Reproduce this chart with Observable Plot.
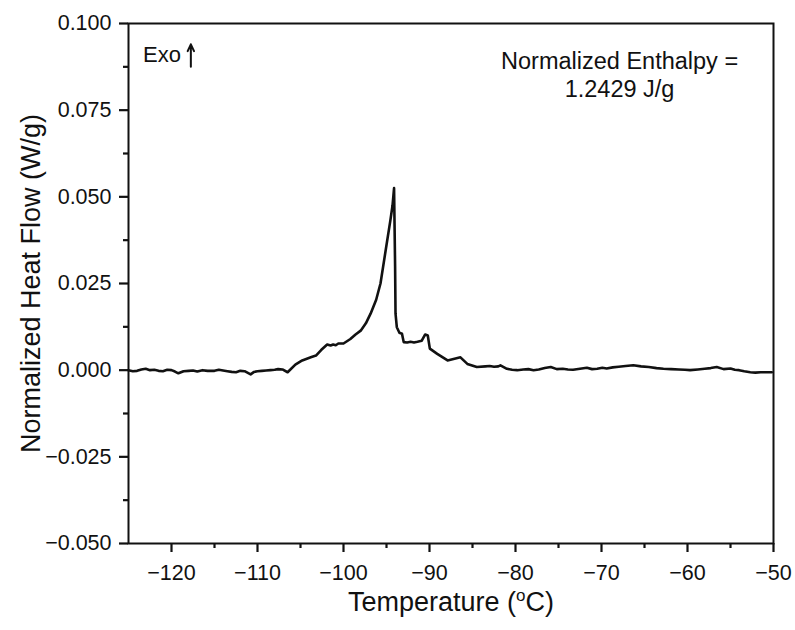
<!DOCTYPE html>
<html>
<head>
<meta charset="utf-8">
<script src="https://cdn.jsdelivr.net/npm/d3@7"></script>
<script src="https://cdn.jsdelivr.net/npm/@observablehq/plot@0.6"></script>
<style>
  body { margin: 0; background: #fff; }
  #chart svg { display: block; }
</style>
</head>
<body>
<div id="chart"></div>
<script>
const temperature = [
  -125.0, -124.5, -124.0, -123.5, -123.0, -122.5, -122.0, -121.5, -121.0, -120.5,
  -120.0, -119.6, -119.2, -118.6, -118.0, -117.5, -117.0, -116.4, -115.8, -115.0,
  -114.5, -114.0, -113.5, -113.0, -112.5, -112.0, -111.5, -110.8, -110.4, -110.0,
  -109.5, -109.0, -108.5, -108.0, -107.6, -107.1, -106.5,
  -105.6, -104.8, -103.8, -103.2, -102.6, -101.9, -101.5, -101.2, -100.9, -100.6, -100.0,
  -99.2, -98.6, -98.0, -97.4, -96.85, -96.2, -95.7, -95.1, -94.55, -94.3,
  -94.12, -94.0, -93.95, -93.8, -93.5, -93.2, -93.0, -92.6, -92.2, -91.8, -91.4, -90.9,
  -90.5, -90.2, -89.96, -89.1, -87.9, -86.4, -85.6, -84.5, -83.5, -83.0, -82.5, -82.0,
  -81.75, -81.0, -80.4, -79.8, -79.1, -78.5, -77.9, -77.3, -76.6, -75.9, -75.2, -74.5, -73.9, -73.3, -72.5, -71.7, -71.1, -70.5,
  -69.9, -69.4, -68.7, -68.0, -67.2, -66.3, -65.4, -64.5, -63.6, -62.8, -61.9, -61.0, -60.3, -59.7, -58.8, -58.0, -57.3, -56.6, -55.8,
  -55.0, -54.5, -54.0, -53.4, -52.7, -52.1, -51.5, -50.8, -50.2
];
const heatFlow = [
  0.0000, -0.0003, -0.0002, 0.0002, 0.0004, 0.0000, 0.0001, -0.0002, -0.0003, 0.0001,
  0.0000, -0.0004, -0.0009, -0.0003, -0.0002, -0.0001, -0.0004, 0.0000, -0.0002, -0.0002,
  0.0001, -0.0001, -0.0003, -0.0005, -0.0006, -0.0002, -0.0003, -0.0012, -0.0005, -0.0003,
  -0.0002, -0.0001, 0.0000, 0.0001, 0.0003, 0.0002, -0.0006,
  0.0016, 0.0028, 0.0037, 0.0042, 0.0058, 0.0074, 0.0071, 0.0074, 0.0072, 0.0077, 0.0077,
  0.0090, 0.0103, 0.0114, 0.0135, 0.0163, 0.0203, 0.0250, 0.0345, 0.0432, 0.0475,
  0.0525, 0.0300, 0.0163, 0.0124, 0.0108, 0.0105, 0.0081, 0.0080, 0.0082, 0.0080, 0.0082, 0.0085,
  0.0103, 0.0100, 0.0062, 0.0047, 0.0028, 0.0037, 0.0018, 0.0009, 0.0011, 0.0012, 0.0010, 0.0011,
  0.0014, 0.0004, 0.0001, 0.0000, 0.0002, 0.0003, 0.0000, 0.0002, 0.0006, 0.0009, 0.0003, 0.0004, 0.0002, 0.0001, 0.0004, 0.0007, 0.0003, 0.0004,
  0.0007, 0.0005, 0.0008, 0.0010, 0.0012, 0.0014, 0.0011, 0.0009, 0.0006, 0.0004, 0.0003, 0.0002, 0.0001, 0.0000, 0.0002, 0.0004, 0.0006, 0.0009, 0.0003,
  0.0005, 0.0001, 0.0000, -0.0003, -0.0006, -0.0007, -0.0006, -0.0006, -0.0006
];
const xMajorTicks = [-120, -110, -100, -90, -80, -70, -60, -50];
const xMinorTicks = [-115, -105, -95, -85, -75, -65, -55];
const yMajorTicks = [-0.05, -0.025, 0, 0.025, 0.05, 0.075, 0.1];
const yMinorTicks = [-0.0375, -0.0125, 0.0125, 0.0375, 0.0625, 0.0875];
const exoLabel = [{x: -123.3, y: 0.0908, text: "Exo"}];
const exoArrow = [{x: -117.75, y1: 0.0875, y2: 0.0940}];
const enthalpyLabel = [{x: -67.9, y: 0.0855, text: "Normalized Enthalpy =\n1.2429 J/g"}];

const data = temperature.map((t, i) => ({t, v: heatFlow[i]}));
const ink = "#111";

const plot = Plot.plot({
  width: 795,
  height: 630,
  marginLeft: 128,
  marginRight: 22,
  marginTop: 23,
  marginBottom: 87,
  style: {fontFamily: "'Liberation Sans', Arial, sans-serif", fontSize: "21px", color: ink, background: "#fff"},
  x: {domain: [-125, -50]},
  y: {domain: [-0.05, 0.1]},
  marks: [
    Plot.frame({stroke: ink, strokeWidth: 2}),
    Plot.axisX({ticks: xMajorTicks, tickSize: 9, tickPadding: 12, stroke: ink, strokeWidth: 2.2, fontSize: 21.5,
      label: "Temperature (oC)", labelAnchor: "center", labelArrow: "none", labelOffset: 67, tickFormat: d3.format("d")}),
    Plot.axisX({ticks: xMinorTicks, tickSize: 5, stroke: ink, strokeWidth: 2.2, text: null, label: null}),
    Plot.axisY({ticks: yMajorTicks, tickSize: 9, tickPadding: 8, stroke: ink, strokeWidth: 2.2, fontSize: 21.5,
      tickFormat: d3.format(".3f"),
      label: "Normalized Heat Flow (W/g)", labelAnchor: "center", labelArrow: "none", labelOffset: 108}),
    Plot.axisY({ticks: yMinorTicks, tickSize: 5, stroke: ink, strokeWidth: 2.2, text: null, label: null}),
    Plot.line(data, {x: "t", y: "v", stroke: ink, strokeWidth: 2.6, curve: "linear"}),
    Plot.text(exoLabel, {x: "x", y: "y", text: "text", textAnchor: "start", fontSize: 22, fill: ink}),
    Plot.arrow(exoArrow, {x: "x", y1: "y1", y2: "y2", stroke: ink, strokeWidth: 2, headLength: 8, headAngle: 50}),
    Plot.text(enthalpyLabel, {x: "x", y: "y", text: "text", textAnchor: "middle", fontSize: 23.5, lineHeight: 1.18, fill: ink})
  ]
});

// axis titles larger, superscript "o" in the x title
plot.querySelectorAll('[aria-label="x-axis label"] text, [aria-label="y-axis label"] text').forEach(el => {
  el.setAttribute("font-size", 27);
  el.setAttribute("fill", ink);
});
const xl = plot.querySelector('[aria-label="x-axis label"] text');
if (xl) {
  xl.textContent = "";
  const ns = "http://www.w3.org/2000/svg";
  const a = document.createElementNS(ns, "tspan"); a.textContent = "Temperature (";
  const b = document.createElementNS(ns, "tspan"); b.textContent = "o"; b.setAttribute("font-size", 17); b.setAttribute("dy", "-0.55em");
  const c = document.createElementNS(ns, "tspan"); c.textContent = "C)"; c.setAttribute("dy", "0.35em");
  xl.append(a, b, c);
}
document.getElementById("chart").append(plot);
</script>
</body>
</html>
